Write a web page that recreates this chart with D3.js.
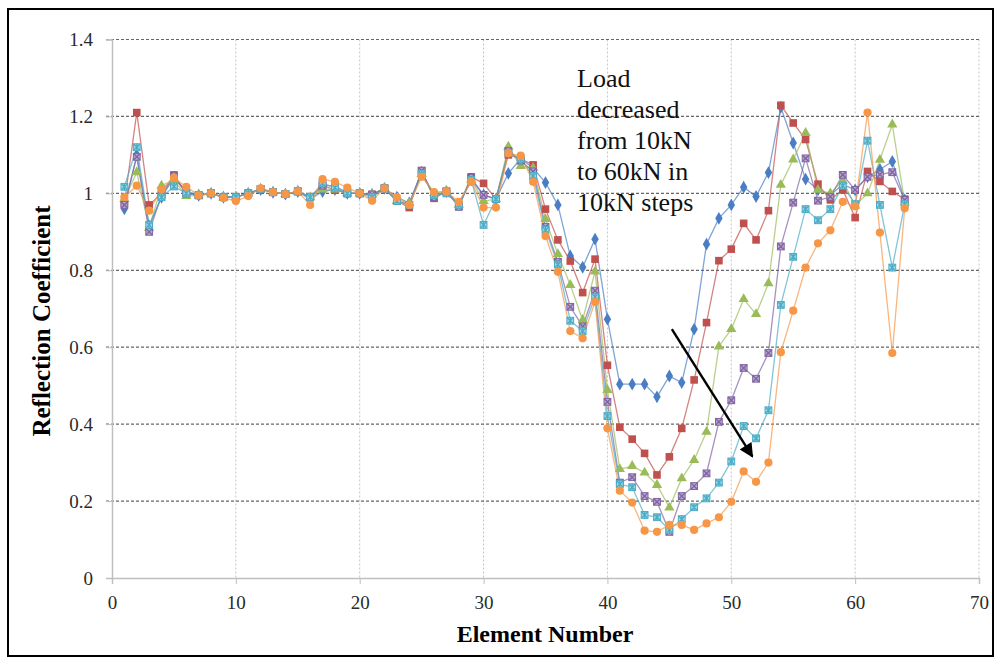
<!DOCTYPE html>
<html>
<head>
<meta charset="utf-8">
<script src="https://cdn.jsdelivr.net/npm/d3@7"></script>
<style>
  html, body { margin: 0; padding: 0; background: #fff; }
  svg { display: block; }
  text { font-family: "Liberation Serif", "Times New Roman", serif; }
</style>
</head>
<body>
<svg id="chart" width="1002" height="662"></svg>
<script>
// Element numbers along the bar
const elements = d3.range(1, 65);

// Reflection coefficient per element, one array per load step
const load10 = [0.96,1.10,0.915,0.99,1.04,1.005,0.995,1.0,0.99,0.99,1.0,1.01,1.003,0.998,1.005,0.985,1.005,1.01,1.0,1.0,0.997,1.013,0.99,0.975,1.055,0.995,1.005,0.97,1.035,0.996,0.985,1.052,1.09,1.066,1.028,0.97,0.837,0.808,0.881,0.673,0.504,0.504,0.504,0.471,0.525,0.508,0.647,0.868,0.935,0.97,1.016,0.992,1.054,1.224,1.131,1.037,1.009,0.996,1.023,1.009,1.043,1.062,1.083,0.983];
const load20 = [0.975,1.21,0.97,1.0,1.048,1.0,0.995,1.0,0.99,0.99,1.0,1.011,1.003,0.998,1.005,0.99,1.02,1.01,1.0,1.0,0.997,1.013,0.98,0.963,1.059,0.987,1.005,0.968,1.043,1.026,0.985,1.10,1.09,1.074,0.959,0.879,0.824,0.742,0.829,0.553,0.392,0.361,0.324,0.268,0.315,0.389,0.515,0.664,0.825,0.855,0.922,0.879,0.955,1.229,1.183,1.14,1.024,0.983,1.009,0.937,1.057,1.031,1.005,0.985];
const load30 = [0.985,1.055,0.91,1.02,1.035,0.993,0.995,1.0,0.99,0.99,1.0,1.011,1.003,0.998,1.005,0.99,1.01,1.01,1.0,1.0,0.997,1.013,0.98,0.975,1.05,1.0,1.005,0.97,1.035,0.98,0.985,1.121,1.071,1.066,0.933,0.842,0.762,0.671,0.797,0.489,0.283,0.291,0.274,0.242,0.183,0.259,0.307,0.38,0.602,0.647,0.725,0.686,0.766,1.022,1.088,1.157,1.009,1.0,1.033,0.968,1.0,1.087,1.179,0.976];
const load40 = [0.97,1.095,0.90,0.995,1.045,1.0,0.995,1.0,0.99,0.99,1.0,1.011,1.003,0.998,1.005,0.99,1.02,1.02,1.0,1.0,0.997,1.013,0.98,0.97,1.059,0.99,1.005,0.965,1.04,0.996,0.985,1.11,1.085,1.057,0.913,0.822,0.705,0.654,0.747,0.458,0.248,0.262,0.213,0.198,0.12,0.213,0.239,0.272,0.406,0.462,0.546,0.518,0.585,0.862,0.976,1.091,0.981,0.991,1.048,1.009,1.043,1.049,1.055,0.983];
const load50 = [1.017,1.12,0.918,0.99,1.018,1.0,0.995,1.0,0.99,0.99,1.0,1.011,1.003,0.998,1.005,0.99,1.026,1.015,1.0,1.0,0.99,1.013,0.98,0.97,1.05,0.995,1.0,0.97,1.035,0.918,0.985,1.105,1.09,1.045,0.905,0.815,0.669,0.642,0.731,0.421,0.244,0.236,0.164,0.158,0.125,0.153,0.184,0.207,0.248,0.303,0.395,0.363,0.436,0.71,0.835,0.959,0.93,0.959,1.02,0.972,1.137,0.97,0.807,0.972];
const load60 = [0.99,1.02,0.955,1.01,1.04,1.017,0.995,1.0,0.988,0.98,0.993,1.013,1.003,0.998,1.005,0.97,1.037,1.03,1.015,1.0,0.981,1.013,0.99,0.97,1.043,1.003,1.005,0.978,1.03,0.963,0.963,1.104,1.098,1.03,0.889,0.796,0.642,0.623,0.718,0.389,0.227,0.196,0.123,0.12,0.138,0.138,0.125,0.142,0.158,0.198,0.277,0.25,0.30,0.587,0.695,0.807,0.87,0.904,0.978,0.966,1.21,0.898,0.585,0.961];

const xTicks = [0, 10, 20, 30, 40, 50, 60, 70];
const yTicks = [0, 0.2, 0.4, 0.6, 0.8, 1.0, 1.2, 1.4];
const noteLines = ["Load", "decreased", "from 10kN", "to 60kN in", "10kN steps"];

const series = [
  { values: load10, color: "#4a7ec4", marker: "diamond" },
  { values: load20, color: "#c0504d", marker: "square" },
  { values: load30, color: "#9bbb59", marker: "triangle" },
  { values: load40, color: "#8064a2", marker: "xsquare" },
  { values: load50, color: "#4bacc6", marker: "star" },
  { values: load60, color: "#f79646", marker: "circle" }
];

const svg = d3.select("#chart");

// outer frame
svg.append("rect")
  .attr("x", 8).attr("y", 9).attr("width", 985).attr("height", 647)
  .attr("fill", "#fff").attr("stroke", "#000").attr("stroke-width", 2);

const x = d3.scaleLinear().domain([0, 70]).range([112, 979]);
const y = d3.scaleLinear().domain([0, 1.4]).range([578, 39.5]);

// vertical grid
svg.append("g").selectAll("line")
  .data(xTicks.filter(d => d > 0))
  .join("line")
  .attr("x1", d => x(d)).attr("x2", d => x(d))
  .attr("y1", y(1.4)).attr("y2", y(0))
  .attr("stroke", "#c4c4c4").attr("stroke-width", 1)
  .attr("stroke-dasharray", "2,2");

// horizontal grid
svg.append("g").selectAll("line")
  .data(yTicks.filter(d => d > 0))
  .join("line")
  .attr("x1", x(0) - 6).attr("x2", x(70))
  .attr("y1", d => y(d)).attr("y2", d => y(d))
  .attr("stroke", "#666").attr("stroke-width", 1.2)
  .attr("stroke-dasharray", "3,2");

// y axis
const yAxis = svg.append("g")
  .attr("transform", `translate(${x(0)},0)`)
  .call(d3.axisLeft(y).tickValues(yTicks).tickSize(6).tickPadding(13)
    .tickFormat(d => String(+d.toFixed(1))));
yAxis.select(".domain").attr("stroke", "#bfbfbf").attr("stroke-width", 1.5);
yAxis.selectAll(".tick line").attr("stroke", "#bfbfbf");
yAxis.selectAll(".tick text")
  .attr("font-size", 19).attr("fill", "#2a2a2a")
  .style("font-family", "'Liberation Serif', serif");

// x axis
const xAxis = svg.append("g")
  .attr("transform", `translate(0,${y(0)})`)
  .call(d3.axisBottom(x).tickValues(xTicks).tickSize(6).tickPadding(12)
    .tickFormat(d3.format("d")));
xAxis.select(".domain").attr("stroke", "#bfbfbf").attr("stroke-width", 1.5);
xAxis.selectAll(".tick line").attr("stroke", "#bfbfbf");
xAxis.selectAll(".tick text")
  .attr("font-size", 19).attr("fill", "#2a2a2a")
  .style("font-family", "'Liberation Serif', serif");

// axis titles
svg.append("text")
  .attr("x", 545).attr("y", 642)
  .attr("text-anchor", "middle")
  .attr("font-size", 24).attr("font-weight", "bold")
  .text("Element Number");

svg.append("text")
  .attr("transform", "translate(50,321) rotate(-90)")
  .attr("text-anchor", "middle")
  .attr("font-size", 25).attr("font-weight", "bold")
  .text("Reflection Coefficient");

// series lines
const line = d3.line()
  .x((d, i) => x(elements[i]))
  .y(d => y(d));

const plot = svg.append("g");
series.forEach(s => {
  plot.append("path")
    .datum(s.values)
    .attr("d", line)
    .attr("fill", "none")
    .attr("stroke", s.color)
    .attr("stroke-opacity", 0.7)
    .attr("stroke-width", 1.3);
});

// markers
function drawMarker(g, type, color) {
  if (type === "diamond") {
    g.append("path").attr("d", d3.symbol(d3.symbolDiamond, 48)())
      .attr("fill", color);
  } else if (type === "square") {
    g.append("rect").attr("x", -3.8).attr("y", -3.8).attr("width", 7.6).attr("height", 7.6)
      .attr("fill", color);
  } else if (type === "triangle") {
    g.append("path").attr("d", d3.symbol(d3.symbolTriangle, 46)())
      .attr("fill", color);
  } else if (type === "circle") {
    g.append("circle").attr("r", 4.1).attr("fill", color);
  } else if (type === "xsquare") {
    g.append("rect").attr("x", -3.4).attr("y", -3.4).attr("width", 6.8).attr("height", 6.8)
      .attr("fill", "#b9a9cf").attr("stroke", color).attr("stroke-width", 1);
    g.append("path").attr("d", "M-3.2,-3.2L3.2,3.2M-3.2,3.2L3.2,-3.2")
      .attr("stroke", color).attr("stroke-width", 1.4);
  } else if (type === "star") {
    g.append("rect").attr("x", -3.4).attr("y", -3.4).attr("width", 6.8).attr("height", 6.8)
      .attr("fill", "#9fd6e4").attr("stroke", color).attr("stroke-width", 1);
    g.append("path").attr("d", "M-3.2,-3.2L3.2,3.2M-3.2,3.2L3.2,-3.2M0,-3.6L0,3.6")
      .attr("stroke", color).attr("stroke-width", 1.3);
  }
}

series.forEach(s => {
  const g = plot.append("g");
  s.values.forEach((v, i) => {
    const m = g.append("g").attr("transform", `translate(${x(elements[i])},${y(v)})`);
    drawMarker(m, s.marker, s.color);
  });
});

// annotation
const note = svg.append("text")
  .attr("font-size", 26).attr("fill", "#111");
noteLines.forEach((t, i) => {
  note.append("tspan")
    .attr("x", 577).attr("y", 87 + i * 31)
    .text(t);
});

svg.append("defs").append("marker")
  .attr("id", "arrowHead")
  .attr("viewBox", "0 0 10 10")
  .attr("refX", 9).attr("refY", 5)
  .attr("markerWidth", 16).attr("markerHeight", 14)
  .attr("markerUnits", "userSpaceOnUse")
  .attr("orient", "auto")
  .append("path").attr("d", "M0,0L10,5L0,10Z").attr("fill", "#000");

svg.append("line")
  .attr("x1", x(45.2)).attr("y1", y(0.647))
  .attr("x2", x(51.7)).attr("y2", y(0.316))
  .attr("stroke", "#000").attr("stroke-width", 2.4)
  .attr("marker-end", "url(#arrowHead)");
</script>
</body>
</html>
